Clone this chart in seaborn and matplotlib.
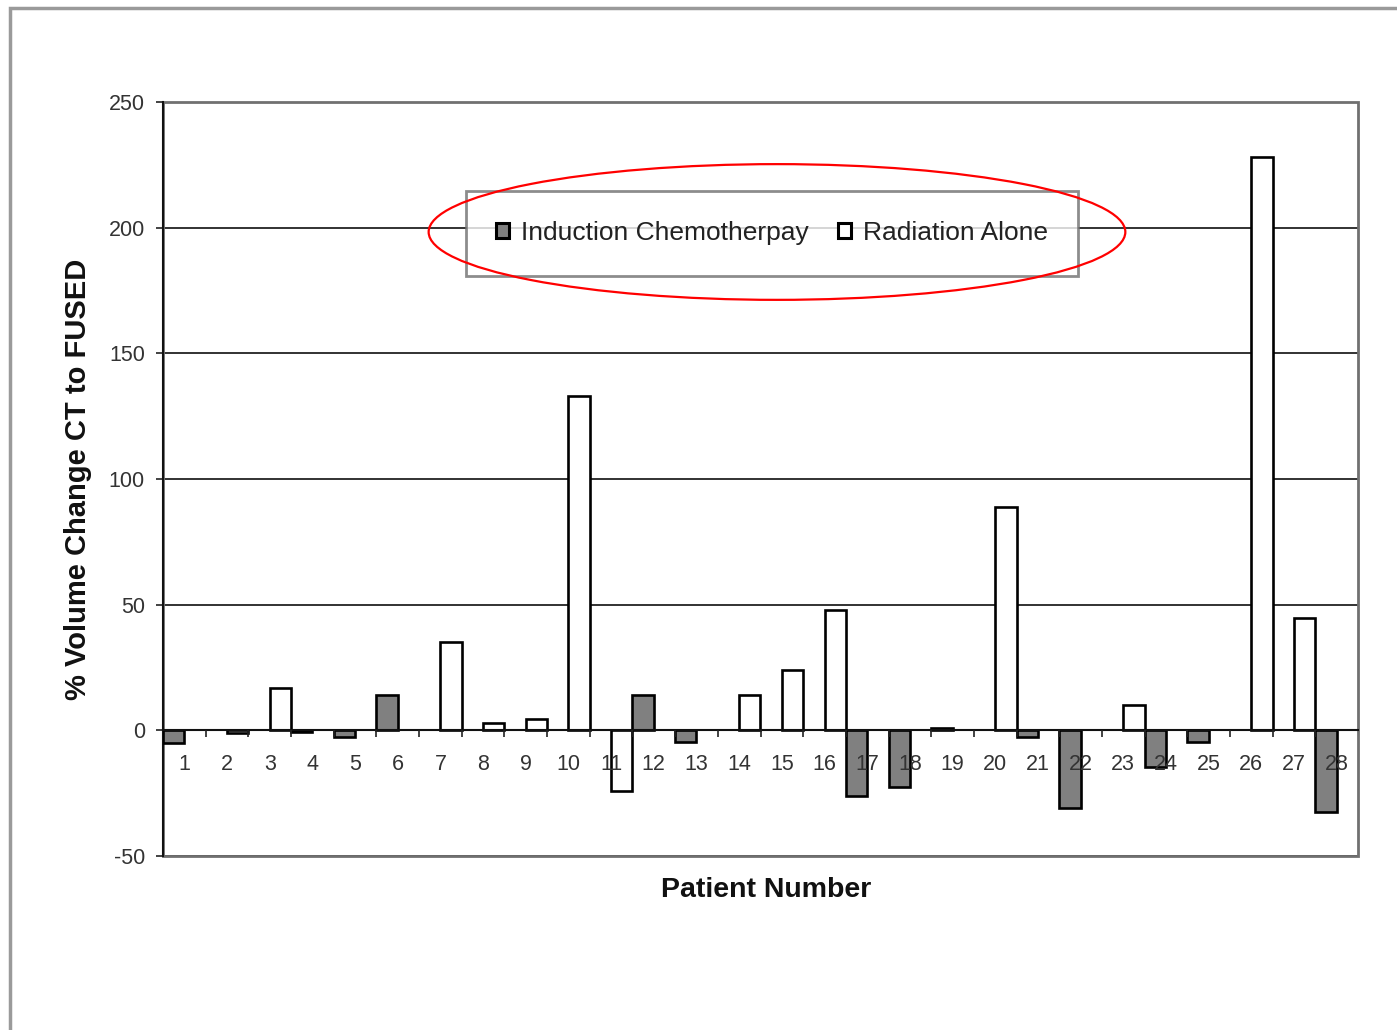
import matplotlib
matplotlib.use("Agg")
import matplotlib.pyplot as plt
from matplotlib.patches import Rectangle, Ellipse
import seaborn as sns
import pandas as pd
import numpy as np

# ---- data ----
patients = [str(i) for i in range(1, 29)]
chemo_patients = ["1", "4", "5", "6", "12", "13", "17", "18", "19", "21", "22", "24", "25", "28"]
chemo_values = [-5, -0.5, -2.5, 14, 14, -4.5, -26, -22.5, 0.8, -2.5, -31, -14.5, -4.5, -32.5]
radiation_patients = ["2", "3", "7", "8", "9", "10", "11", "14", "15", "16", "20", "23", "26", "27"]
radiation_values = [-1, 17, 35, 3, 4.5, 133, -24, 14, 24, 48, 89, 10, 228, 44.5]
series_names = ["Induction Chemotherpay", "Radiation Alone"]
y_ticks = [-50, 0, 50, 100, 150, 200, 250]

df = pd.concat([
    pd.DataFrame({"Patient": chemo_patients, "Change": chemo_values, "Group": series_names[0]}),
    pd.DataFrame({"Patient": radiation_patients, "Change": radiation_values, "Group": series_names[1]}),
], ignore_index=True)

sns.set_theme(style="white")
plt.rcParams["font.family"] = ["Liberation Sans", "DejaVu Sans"]
plt.rcParams["axes.unicode_minus"] = False

fig = plt.figure(figsize=(13.97, 10.30), dpi=100)
ax = fig.add_axes([163 / 1397, 1 - 856 / 1030, 1195 / 1397, 754 / 1030])

sns.barplot(data=df, x="Patient", y="Change", hue="Group", order=patients,
            hue_order=series_names,
            palette={series_names[0]: "#808080", series_names[1]: "white"},
            edgecolor="black", linewidth=1.9, width=1.0, dodge=True,
            saturation=1, ax=ax, zorder=3)

ax.set_xlim(-0.5, len(patients) - 0.5)
ax.set_ylim(-50, 250)
ax.set_axisbelow(True)

# grid
ax.set_yticks(y_ticks)
ax.yaxis.grid(True, color="#222222", linewidth=1.3)
ax.xaxis.grid(False)

# spines
for s in ["top", "right"]:
    ax.spines[s].set_visible(False)
ax.spines["left"].set_color("#111111")
ax.spines["left"].set_linewidth(1.5)
ax.spines["bottom"].set_position(("data", 0))
ax.spines["bottom"].set_color("#111111")
ax.spines["bottom"].set_linewidth(1.5)
ax.spines["bottom"].set_zorder(4)

# frame of plot area
ax.add_patch(Rectangle((0, 0), 1, 1, transform=ax.transAxes, fill=False,
                       edgecolor="#707070", linewidth=2.0, clip_on=False, zorder=0.6))

# ticks
ax.set_xticks(range(len(patients)))
ax.set_xticklabels(patients)
ax.set_xticks(np.arange(0.5, len(patients) - 1, 1.0), minor=True)
ax.tick_params(axis="x", which="major", length=0, pad=17, labelsize=15.5, labelcolor="#333333")
ax.tick_params(axis="x", which="minor", bottom=True, direction="out", length=5,
               width=1.2, color="#222222")
ax.tick_params(axis="y", which="major", left=True, direction="out", length=5, width=1.2,
               color="#222222", pad=8, labelsize=15.5, labelcolor="#333333")
# x tick labels drawn over the bars, y grid stays below them
ax.xaxis.set_zorder(4.5)
ax.yaxis.set_zorder(0.5)

ax.set_xlabel("")
ax.set_ylabel("")
fig.text(78 / 1397, 1 - 479 / 1030, "% Volume Change CT to FUSED", rotation=90,
         ha="center", va="center", fontsize=21, fontweight="bold", color="#111111")
fig.text(766 / 1397, 1 - 890 / 1030, "Patient Number", ha="center", va="center",
         fontsize=20.5, fontweight="bold", color="#111111")

# legend
leg = ax.legend(loc="center", bbox_to_anchor=(0.5096, 0.826), ncol=2, frameon=True,
                fancybox=False, fontsize=19, handlelength=0.5, handleheight=0.5,
                handletextpad=0.45, columnspacing=1.1, borderpad=1.15)
leg.get_frame().set_edgecolor("#707070")
leg.get_frame().set_linewidth(2.0)
leg.get_frame().set_facecolor("white")
leg.set_zorder(5)
for t in leg.get_texts():
    t.set_color("#222222")
for h in leg.legend_handles:
    h.set_linewidth(2.2)

# red highlight ellipse
ax.add_patch(Ellipse((0.5138, 0.8276), 0.583, 0.180, transform=ax.transAxes, fill=False,
                     edgecolor="red", linewidth=1.6, clip_on=False, zorder=10))

# outer figure frame
fig.patches.append(Rectangle((10 / 1397, -0.05), 1.2, 1.05 - 8 / 1030,
                             transform=fig.transFigure, fill=False,
                             edgecolor="#9a9a9a", linewidth=2.5))

fig.savefig("out.png", dpi=100, facecolor="white")
